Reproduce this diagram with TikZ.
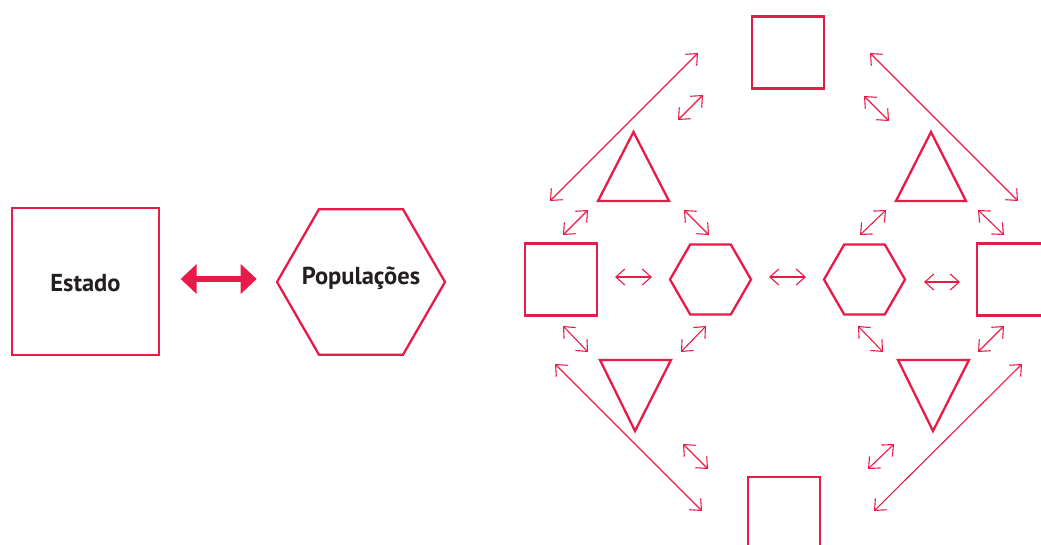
\documentclass[tikz,border=0pt]{standalone}
\usepackage{fontspec}
\setmainfont{PT Sans}
\usetikzlibrary{arrows.meta, shapes.geometric}
\definecolor{mainRed}{RGB}{232,26,72}
\definecolor{textBlack}{RGB}{35,31,32}
\tikzset{
    shapeLine/.style={draw=mainRed, line width=2.3pt},
    boxNode/.style={shapeLine, rectangle, inner sep=0pt},
    hexNode/.style={shapeLine, regular polygon, regular polygon sides=6, inner sep=0pt},
    labelText/.style={text=textBlack, font=\bfseries\fontsize{24.5}{28}\selectfont},
    thinArrow/.style={mainRed, line width=1.1pt, {Straight Barb[length=9pt,width=16pt]}-{Straight Barb[length=9pt,width=16pt]}},
    bigArrow/.style={mainRed, line width=5.5pt, {Triangle[length=16pt,width=29pt]}-{Triangle[length=16pt,width=29pt]}}
}

\begin{document}
\begin{tikzpicture}[x=1pt, y=-1pt]
    \useasboundingbox (0,0) rectangle (1041,545);

    % left: state and populations
    \node[boxNode, minimum size=147pt] (estado) at (85.5,281.5) {};
    \node[labelText] (estadoText) at ([yshift=-2pt]estado.center) {Estado};
    \node[hexNode, minimum size=168pt] (popul) at (361,282) {};
    \node[labelText] (populText) at ([yshift=4pt]popul.center) {Populações};
    \draw[bigArrow, shorten <=20.5pt, shorten >=19pt] ([yshift=2.5pt]estado.east) -- ([yshift=3pt]popul.west);

    % right: the network
    \node[boxNode, minimum size=72pt] (topSq) at (788,52.5) {};
    \node[boxNode, minimum size=72pt] (leftSq) at (561,279.5) {};
    \node[boxNode, minimum size=72pt] (rightSq) at (1013,279.5) {};
    \node[boxNode, minimum size=72pt] (botSq) at (784,513) {};
    \node[hexNode, minimum size=81pt] (hexL) at (710.5,279.5) {};
    \node[hexNode, minimum size=81pt] (hexR) at (864.5,279.5) {};

    \draw[shapeLine, line join=miter] (633.5,132) -- (669,201) -- (598,201) -- cycle;
    \draw[shapeLine, line join=miter] (931,132) -- (966,201) -- (896,201) -- cycle;
    \draw[shapeLine, line join=miter] (600,360) -- (671,360) -- (635,431) -- cycle;
    \draw[shapeLine, line join=miter] (898,360) -- (969,360) -- (933,431) -- cycle;

    % arrows
    \foreach \n/\a/\b in {h1/{615,277}/{652,277}, h2/{769,277}/{806,277}, h3/{924,282}/{960,282},
        d1/{678,120}/{703,95}, d2/{864,96}/{889,121}, d3/{563,235}/{588,210}, d4/{684,210}/{709,235},
        d5/{860,235}/{886,210}, d6/{978,210}/{1004,235}, d7/{563,326}/{588,352}, d8/{681,352}/{706,326},
        d9/{858,326}/{883,352}, d10/{978,352}/{1004,326}, d11/{683,444}/{708,469}, d12/{868,469}/{894,444},
        l1/{550,201}/{698,53}, l2/{870,53}/{1018,201}, l3/{555,364}/{702,511}, l4/{874,511}/{1022,364}} {
        \coordinate (\n s) at (\a);
        \coordinate (\n e) at (\b);
        \draw[thinArrow] (\n s) -- (\n e);
    }
\end{tikzpicture}
\end{document}
